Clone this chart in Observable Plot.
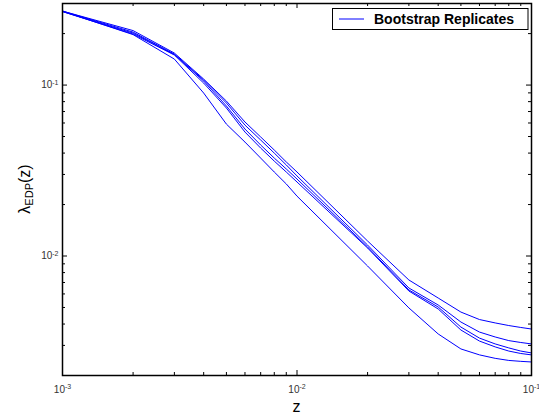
<!DOCTYPE html>
<html>
<head>
<meta charset="utf-8">
<script src="https://cdn.jsdelivr.net/npm/d3@7"></script>
<script src="https://cdn.jsdelivr.net/npm/@observablehq/plot@0.6"></script>
<style>
html, body { margin: 0; padding: 0; background: #fff; }
#chart { width: 539px; height: 417px; overflow: hidden; }
</style>
</head>
<body>
<div id="chart"></div>
<script>
// ---- data ----
const z = [0.001, 0.002, 0.003, 0.004, 0.005, 0.006, 0.007, 0.008, 0.009, 0.01,
           0.02, 0.03, 0.04, 0.05, 0.06, 0.07, 0.08, 0.09, 0.1];
const rep1 = [0.2708, 0.2083, 0.1539, 0.1084, 0.0806, 0.0608, 0.0497, 0.0417, 0.0355, 0.0310,
              0.01224, 0.00724, 0.00568, 0.00470, 0.00425, 0.00406, 0.00392, 0.00382, 0.00374];
const rep2 = [0.2708, 0.2041, 0.1518, 0.1070, 0.0785, 0.0583, 0.0477, 0.0400, 0.0341, 0.0294,
              0.01159, 0.00650, 0.00517, 0.00411, 0.00359, 0.00336, 0.00320, 0.00312, 0.00306];
const rep3 = [0.2690, 0.2014, 0.1508, 0.1055, 0.0754, 0.0553, 0.0446, 0.0374, 0.0323, 0.0282,
              0.01129, 0.00633, 0.00503, 0.00384, 0.00331, 0.00306, 0.00290, 0.00278, 0.00271];
const rep4 = [0.2690, 0.1987, 0.1498, 0.1027, 0.0734, 0.0531, 0.0428, 0.0359, 0.0310, 0.0271,
              0.01114, 0.00624, 0.00490, 0.00369, 0.00318, 0.00294, 0.00278, 0.00269, 0.00264];
const rep5 = [0.2708, 0.1973, 0.1419, 0.0898, 0.0591, 0.0464, 0.0374, 0.0310, 0.0264, 0.0224,
              0.00874, 0.00497, 0.00350, 0.00286, 0.00264, 0.00252, 0.00245, 0.00242, 0.00240];
const replicates = [rep1, rep2, rep3, rep4, rep5];

const xMajorTicks = [0.001, 0.01, 0.1];
const xMinorTicks = [0.002, 0.003, 0.004, 0.005, 0.006, 0.007, 0.008, 0.009,
                     0.02, 0.03, 0.04, 0.05, 0.06, 0.07, 0.08, 0.09];
const yMajorTicks = [0.01, 0.1];
const yMinorTicks = [0.003, 0.004, 0.005, 0.006, 0.007, 0.008, 0.009,
                     0.02, 0.03, 0.04, 0.05, 0.06, 0.07, 0.08, 0.09, 0.2];
const xDomain = [0.001, 0.1];
const yDomain = [0.002, 0.3];
const xTitle = "z";
const yTitleMain = "\u03bb", yTitleSub = "EDP", yTitleTail = "(z)";
const legendLabel = "Bootstrap Replicates";

// ---- build table ----
const data = replicates.flatMap((r, i) => z.map((zz, j) => ({z: zz, lambda: r[j], rep: "r" + i})));

const W = 539, H = 417, mt = 3, mb = 42, ml = 62, mr = 8;
const innerH = H - mt - mb, innerW = W - ml - mr;
const font = "Liberation Sans, Arial, Helvetica, sans-serif";
const supFmt = d => "10^" + Math.round(Math.log10(d));

const plot = Plot.plot({
  width: W, height: H,
  marginTop: mt, marginBottom: mb, marginLeft: ml, marginRight: mr,
  style: {fontFamily: font, background: "white", overflow: "visible"},
  x: {type: "log", domain: xDomain},
  y: {type: "log", domain: yDomain},
  marks: [
    Plot.tickX(xMajorTicks, {insetTop: innerH - 5, stroke: "black"}),
    Plot.tickX(xMajorTicks, {insetBottom: innerH - 5, stroke: "black"}),
    Plot.tickX(xMinorTicks, {insetTop: innerH - 3, stroke: "black"}),
    Plot.tickX(xMinorTicks, {insetBottom: innerH - 3, stroke: "black"}),
    Plot.tickY(yMajorTicks, {insetRight: innerW - 5, stroke: "black"}),
    Plot.tickY(yMajorTicks, {insetLeft: innerW - 5, stroke: "black"}),
    Plot.tickY(yMinorTicks, {insetRight: innerW - 3, stroke: "black"}),
    Plot.tickY(yMinorTicks, {insetLeft: innerW - 3, stroke: "black"}),
    Plot.line(data, {x: "z", y: "lambda", z: "rep", stroke: "#0000ff", strokeWidth: 1}),
    Plot.frame({stroke: "black", strokeWidth: 1.5}),
    Plot.axisX(xMajorTicks, {anchor: "bottom", tickSize: 0, tickPadding: 10, fontSize: 10,
      fill: "#333", tickFormat: supFmt, label: null}),
    Plot.axisY(yMajorTicks, {anchor: "left", tickSize: 0, tickPadding: 4, fontSize: 10,
      fill: "#333", tickFormat: supFmt, label: null})
  ]
});

const svg = d3.select(plot);
// superscript exponents in tick labels
svg.selectAll("text").each(function () {
  const m = /^10\^(-?\d+)$/.exec(this.textContent);
  if (!m) return;
  const t = d3.select(this);
  t.text(null);
  t.append("tspan").text("10");
  t.append("tspan").attr("dy", "-0.5em").attr("font-size", "7px").text(m[1]);
});

// x title
svg.append("text")
  .attr("x", ml + innerW / 2).attr("y", 412)
  .attr("text-anchor", "middle").attr("font-family", font).attr("font-size", 16)
  .attr("fill", "#000").text(xTitle);

// y title
const yl = svg.append("text")
  .attr("transform", `translate(30,${mt + innerH / 2}) rotate(-90)`)
  .attr("text-anchor", "middle").attr("font-family", font).attr("font-size", 16)
  .attr("fill", "#000");
yl.append("tspan").text(yTitleMain);
yl.append("tspan").attr("font-size", 11).attr("dy", 3).text(yTitleSub);
yl.append("tspan").attr("dy", -3).text(yTitleTail);

// legend
const lg = svg.append("g");
lg.append("rect").attr("x", 332.5).attr("y", 8.5).attr("width", 195.5).attr("height", 21)
  .attr("fill", "white").attr("stroke", "black").attr("stroke-width", 1);
lg.append("line").attr("x1", 339).attr("x2", 364).attr("y1", 19).attr("y2", 19)
  .attr("stroke", "#0000ff").attr("stroke-width", 1);
lg.append("text").attr("x", 374).attr("y", 24).attr("text-anchor", "start")
  .attr("font-family", font).attr("font-size", 14).attr("font-weight", "bold")
  .attr("fill", "#000").text(legendLabel);

document.getElementById("chart").appendChild(plot);
</script>
</body>
</html>
